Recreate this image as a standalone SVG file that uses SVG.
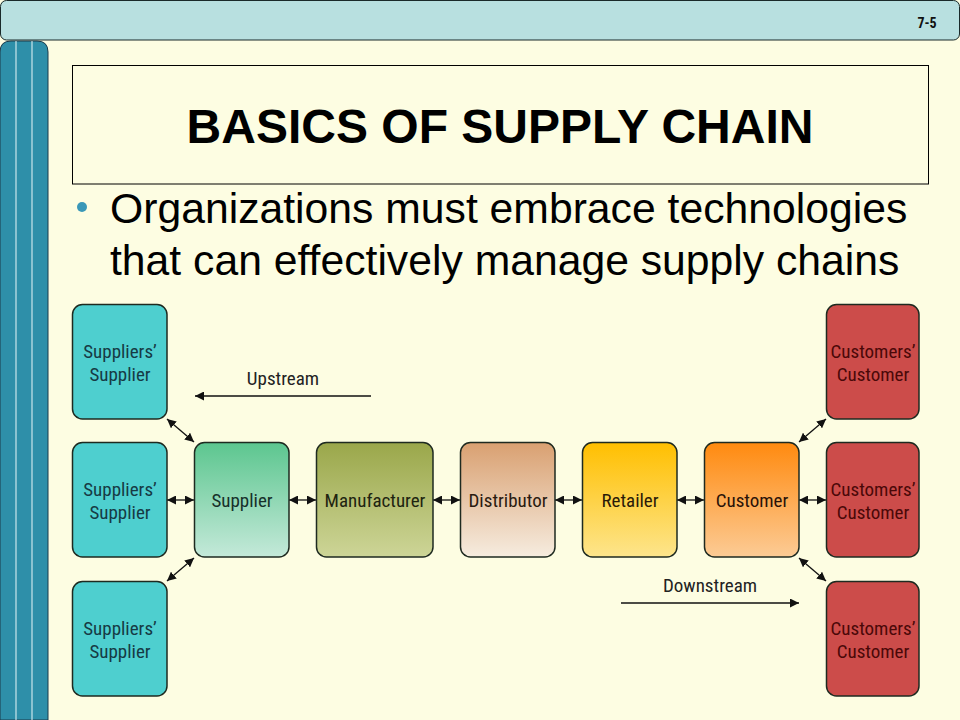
<svg xmlns="http://www.w3.org/2000/svg" width="960" height="720" viewBox="0 0 960 720">
<style>
.lbl{font-family:"Liberation Sans Narrow","Roboto Condensed","DejaVu Sans Condensed","Liberation Sans",sans-serif;font-size:19px;text-anchor:middle}
.box{stroke:#1e2a20;stroke-width:1.5}
.con{stroke:#111;stroke-width:1.3;fill:none;marker-start:url(#ah);marker-end:url(#ah)}
.dir{stroke:#111;stroke-width:1.3;fill:none;marker-end:url(#ah)}
.dtxt{font-family:"Liberation Sans Narrow","Roboto Condensed","Liberation Sans",sans-serif;font-size:19px;fill:#222;text-anchor:middle}
.arial{font-family:"Liberation Sans",Arial,sans-serif}
</style>
<defs>
<marker id="ah" viewBox="0 0 10 10" refX="10" refY="5" markerWidth="9" markerHeight="9" markerUnits="userSpaceOnUse" orient="auto-start-reverse">
<path d="M0,0 L10,5 L0,10 z" fill="#111"/>
</marker>
<linearGradient id="gSup" x1="0" y1="0" x2="0" y2="1"><stop offset="0" stop-color="#5cc68f"/><stop offset="1" stop-color="#c4e9d9"/></linearGradient>
<linearGradient id="gMan" x1="0" y1="0" x2="0" y2="1"><stop offset="0" stop-color="#9aa74a"/><stop offset="1" stop-color="#cdd597"/></linearGradient>
<linearGradient id="gDis" x1="0" y1="0" x2="0" y2="1"><stop offset="0" stop-color="#d9a071"/><stop offset="1" stop-color="#f6ecdf"/></linearGradient>
<linearGradient id="gRet" x1="0" y1="0" x2="0" y2="1"><stop offset="0" stop-color="#ffbf00"/><stop offset="1" stop-color="#fde58c"/></linearGradient>
<linearGradient id="gCus" x1="0" y1="0" x2="0" y2="1"><stop offset="0" stop-color="#ff8a0f"/><stop offset="1" stop-color="#fccb95"/></linearGradient>
</defs>
<rect x="0" y="0" width="960" height="720" fill="#fdfde2"/>
<rect x="0.5" y="0.5" width="959" height="39.5" rx="6" fill="#b8e0e0" stroke="#1a2a2a" stroke-width="1"/>
<text class="lbl" x="927" y="28" font-weight="bold" fill="#111" style="font-size:14px">7-5</text>
<path d="M0,720 L0,52 Q0,41 11,41 L37,41 Q48,41 48,52 L48,720 Z" fill="#2e8fa9" stroke="#1a3a4a" stroke-width="1"/>
<line x1="16" y1="41" x2="16" y2="720" stroke="#e8f6f8" stroke-width="1"/>
<line x1="32" y1="41" x2="32" y2="720" stroke="#e8f6f8" stroke-width="1"/>
<rect x="72.5" y="65.5" width="856" height="118.5" fill="#fdfde2" stroke="#000" stroke-width="1"/>
<text class="arial" x="500" y="143" font-size="48" font-weight="bold" text-anchor="middle" fill="#000">BASICS OF SUPPLY CHAIN</text>
<circle cx="82" cy="207" r="5" fill="#3a98b8"/>
<text class="arial" font-size="42.7" fill="#000"><tspan x="110" y="223">Organizations must embrace technologies</tspan><tspan x="110" y="275">that can effectively manage supply chains</tspan></text>
<g id="connectors">
<line class="con" x1="167" y1="500" x2="194" y2="500"/>
<line class="con" x1="289" y1="500" x2="316" y2="500"/>
<line class="con" x1="433" y1="500" x2="460" y2="500"/>
<line class="con" x1="555" y1="500" x2="582" y2="500"/>
<line class="con" x1="677" y1="500" x2="704" y2="500"/>
<line class="con" x1="799" y1="500" x2="826" y2="500"/>
<line class="con" x1="167" y1="419" x2="194" y2="442"/>
<line class="con" x1="194" y1="558" x2="167" y2="581"/>
<line class="con" x1="799" y1="442" x2="826" y2="419"/>
<line class="con" x1="799" y1="558" x2="826" y2="581"/>
<line class="dir" x1="371" y1="396" x2="195" y2="396"/>
<line class="dir" x1="621" y1="603" x2="799" y2="603"/>
<text class="dtxt" x="283" y="385">Upstream</text>
<text class="dtxt" x="710" y="592">Downstream</text>
</g>
<g id="ss1"><rect class="box" x="72.5" y="304.5" width="94.5" height="114.5" rx="10" fill="#4ecfcf"/><text class="lbl" fill="#163a44"><tspan x="120" y="358">Suppliers’</tspan><tspan x="120" y="381">Supplier</tspan></text></g>
<g id="ss2"><rect class="box" x="72.5" y="442.5" width="94.5" height="114.5" rx="10" fill="#4ecfcf"/><text class="lbl" fill="#163a44"><tspan x="120" y="496">Suppliers’</tspan><tspan x="120" y="519">Supplier</tspan></text></g>
<g id="ss3"><rect class="box" x="72.5" y="581.5" width="94.5" height="114.5" rx="10" fill="#4ecfcf"/><text class="lbl" fill="#163a44"><tspan x="120" y="635">Suppliers’</tspan><tspan x="120" y="658">Supplier</tspan></text></g>
<g id="supplier"><rect class="box" x="194.5" y="442.5" width="94.5" height="114.5" rx="10" fill="url(#gSup)"/><text class="lbl" x="242" y="507" fill="#16302a">Supplier</text></g>
<g id="manufacturer"><rect class="box" x="316.5" y="442.5" width="116.5" height="114.5" rx="10" fill="url(#gMan)"/><text class="lbl" x="375" y="507" fill="#1e2410">Manufacturer</text></g>
<g id="distributor"><rect class="box" x="460.5" y="442.5" width="94.5" height="114.5" rx="10" fill="url(#gDis)"/><text class="lbl" x="508" y="507" fill="#2a1a10">Distributor</text></g>
<g id="retailer"><rect class="box" x="582.5" y="442.5" width="94.5" height="114.5" rx="10" fill="url(#gRet)"/><text class="lbl" x="630" y="507" fill="#2a1a08">Retailer</text></g>
<g id="customer"><rect class="box" x="704.5" y="442.5" width="94.5" height="114.5" rx="10" fill="url(#gCus)"/><text class="lbl" x="752" y="507" fill="#2a1208">Customer</text></g>
<g id="cc1"><rect class="box" x="826.5" y="304.5" width="92.5" height="114.5" rx="10" fill="#cc4c4a"/><text class="lbl" fill="#4a0808"><tspan x="873" y="358">Customers’</tspan><tspan x="873" y="381">Customer</tspan></text></g>
<g id="cc2"><rect class="box" x="826.5" y="442.5" width="92.5" height="114.5" rx="10" fill="#cc4c4a"/><text class="lbl" fill="#4a0808"><tspan x="873" y="496">Customers’</tspan><tspan x="873" y="519">Customer</tspan></text></g>
<g id="cc3"><rect class="box" x="826.5" y="581.5" width="92.5" height="114.5" rx="10" fill="#cc4c4a"/><text class="lbl" fill="#4a0808"><tspan x="873" y="635">Customers’</tspan><tspan x="873" y="658">Customer</tspan></text></g>
</svg>
